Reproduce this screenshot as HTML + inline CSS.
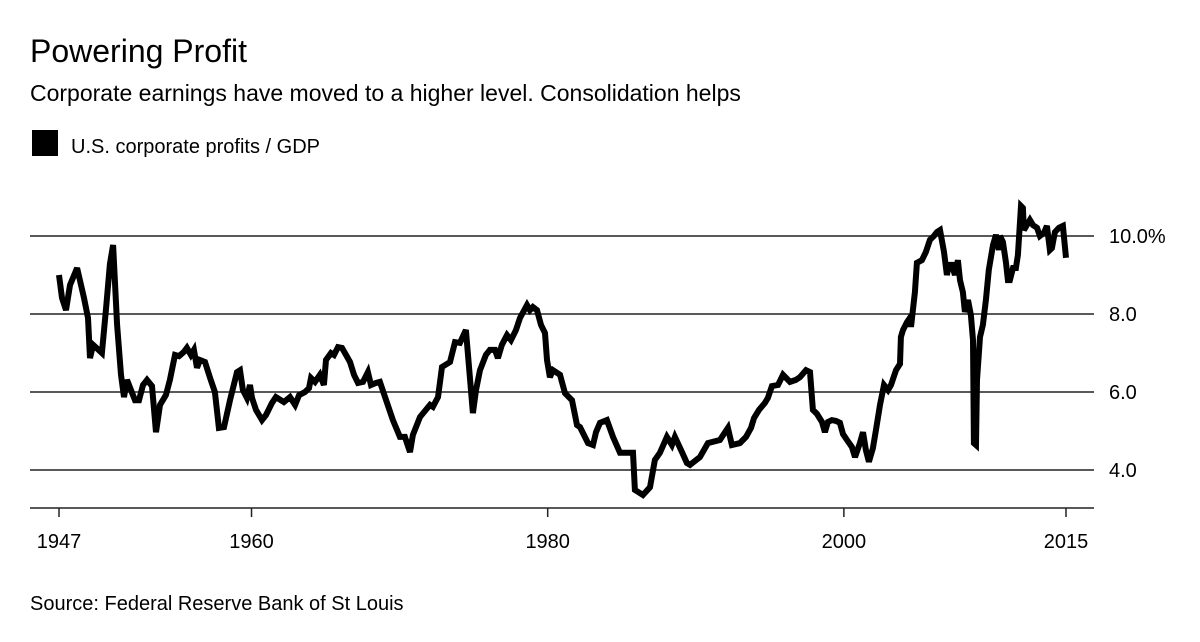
<!DOCTYPE html>
<html><head><meta charset="utf-8"><style>
body{margin:0;background:#fff;width:1200px;height:637px;overflow:hidden;font-family:"Liberation Sans",sans-serif;color:#000}
svg text{font-family:"Liberation Sans",sans-serif}
</style></head><body>
<svg id="chart" width="1200" height="637" xmlns="http://www.w3.org/2000/svg">
<text x="30" y="62" font-size="32">Powering Profit</text>
<text x="30" y="101" font-size="23">Corporate earnings have moved to a higher level. Consolidation helps</text>
<rect x="32" y="130" width="26" height="26" fill="#000"/>
<text x="71" y="153" font-size="20">U.S. corporate profits / GDP</text>
<g id="grid"></g><g id="xaxis"></g><g id="plot"></g>
<text x="30" y="610" font-size="20">Source: Federal Reserve Bank of St Louis</text>
</svg>
<script>
const years=[1947.0,1947.2,1947.47,1947.74,1948.22,1948.69,1948.96,1949.09,1949.3,1949.9,1950.17,1950.44,1950.65,1950.92,1951.19,1951.39,1951.59,1951.86,1952.13,1952.4,1952.67,1952.94,1953.28,1953.55,1953.82,1954.22,1954.49,1954.83,1955.1,1955.44,1955.64,1955.91,1956.11,1956.32,1956.52,1956.86,1957.2,1957.53,1957.8,1958.14,1958.55,1959.02,1959.22,1959.42,1959.69,1959.9,1960.03,1960.3,1960.71,1960.98,1961.38,1961.65,1962.19,1962.6,1962.94,1963.21,1963.61,1963.88,1964.02,1964.29,1964.62,1964.89,1965.03,1965.37,1965.57,1965.84,1966.11,1966.38,1966.65,1966.92,1967.19,1967.53,1967.86,1968.07,1968.4,1968.67,1969.55,1970.02,1970.36,1970.7,1970.9,1971.38,1972.05,1972.25,1972.59,1972.86,1973.4,1973.74,1974.07,1974.48,1974.95,1975.16,1975.43,1975.83,1976.1,1976.44,1976.64,1976.91,1977.25,1977.52,1977.86,1978.13,1978.6,1978.8,1979.0,1979.28,1979.55,1979.82,1979.95,1980.15,1980.36,1980.83,1981.17,1981.64,1981.98,1982.18,1982.72,1983.06,1983.26,1983.53,1984.0,1984.41,1984.88,1985.76,1985.89,1986.43,1986.91,1987.24,1987.58,1988.05,1988.39,1988.59,1989.07,1989.4,1989.61,1990.28,1990.82,1991.63,1992.17,1992.44,1992.98,1993.39,1993.73,1993.93,1994.27,1994.67,1994.87,1995.14,1995.55,1995.89,1996.36,1996.76,1997.03,1997.44,1997.71,1997.91,1998.18,1998.52,1998.72,1998.92,1999.19,1999.46,1999.73,1999.94,2000.21,2000.54,2000.75,2001.08,2001.29,2001.49,2001.69,2001.96,2002.17,2002.44,2002.71,2002.98,2003.18,2003.52,2003.79,2003.85,2003.99,2004.26,2004.46,2004.53,2004.8,2004.93,2005.27,2005.54,2005.81,2006.08,2006.28,2006.49,2006.76,2006.96,2007.09,2007.3,2007.5,2007.7,2007.84,2008.04,2008.17,2008.38,2008.58,2008.72,2008.78,2008.92,2008.99,2009.19,2009.39,2009.59,2009.79,2010.07,2010.27,2010.47,2010.54,2010.74,2010.94,2011.08,2011.21,2011.42,2011.62,2011.75,2011.96,2012.09,2012.16,2012.56,2012.77,2013.04,2013.24,2013.51,2013.71,2013.91,2014.05,2014.25,2014.52,2014.79,2015.0];
const profits=[9.0,8.41,8.1,8.74,9.18,8.41,7.9,6.87,7.21,7.0,8.1,9.28,9.77,7.72,6.44,5.87,6.31,6.05,5.79,5.79,6.18,6.31,6.15,4.97,5.67,5.92,6.31,6.95,6.92,7.03,7.13,6.95,7.08,6.62,6.82,6.77,6.36,6.0,5.08,5.1,5.79,6.51,6.56,6.05,5.85,6.18,5.85,5.54,5.28,5.41,5.72,5.87,5.74,5.87,5.67,5.92,6.0,6.1,6.36,6.26,6.44,6.18,6.82,7.0,6.95,7.15,7.13,6.95,6.77,6.44,6.23,6.26,6.51,6.18,6.23,6.26,5.28,4.85,4.85,4.46,4.9,5.36,5.67,5.62,5.87,6.64,6.77,7.28,7.26,7.59,5.46,6.05,6.56,6.95,7.08,7.08,6.87,7.21,7.46,7.33,7.59,7.9,8.23,8.1,8.18,8.1,7.72,7.51,6.82,6.38,6.56,6.44,5.97,5.79,5.15,5.1,4.69,4.64,4.97,5.21,5.28,4.85,4.44,4.44,3.49,3.36,3.56,4.26,4.44,4.85,4.64,4.85,4.46,4.18,4.13,4.33,4.69,4.77,5.08,4.64,4.69,4.85,5.08,5.33,5.54,5.72,5.85,6.15,6.18,6.44,6.26,6.31,6.38,6.56,6.51,5.54,5.44,5.23,4.97,5.23,5.28,5.26,5.21,4.92,4.77,4.59,4.33,4.69,4.97,4.51,4.21,4.56,5.03,5.67,6.18,6.05,6.18,6.56,6.72,7.41,7.59,7.79,7.9,7.67,8.56,9.31,9.38,9.59,9.9,10.0,10.1,10.15,9.59,9.0,9.26,9.26,9.0,9.38,8.87,8.56,8.05,8.36,7.97,7.33,4.69,4.64,6.31,7.41,7.72,8.36,9.13,9.77,10.03,9.64,10.0,9.85,9.33,8.87,8.87,9.18,9.18,9.51,10.77,10.72,10.15,10.41,10.28,10.21,10.0,10.08,10.26,9.64,9.69,10.1,10.21,10.26,9.44];
const yTicks=[4,6,8,10];
const yTickLabels=["4.0","6.0","8.0","10.0%"];
const xTicks=[1947,1960,1980,2000,2015];
const NS="http://www.w3.org/2000/svg";
function xs(yr){return 59+(yr-1947)*(1066-59)/(2015-1947);}
function ys(v){return 236+(10-v)*39;}
function mk(tag,attrs,parent){const e=document.createElementNS(NS,tag);for(const k in attrs)e.setAttribute(k,attrs[k]);parent.appendChild(e);return e;}
const grid=document.getElementById('grid'),xa=document.getElementById('xaxis'),plot=document.getElementById('plot');
yTicks.forEach((t,i)=>{
 const l=mk('line',{x1:30,x2:1094,y1:ys(t),y2:ys(t),stroke:'#222','stroke-width':1.5},grid);
 
 
 const tx=mk('text',{x:1109,y:ys(t)+7,'font-size':20},grid);
 tx.textContent=yTickLabels[i];
 
 
});
const ax=mk('line',{x1:30,x2:1094,y1:508,y2:508,stroke:'#222','stroke-width':1.5},xa);


xTicks.forEach(t=>{
 const tk=mk('line',{x1:xs(t),x2:xs(t),y1:508,y2:517,stroke:'#222','stroke-width':1.5},xa);
 
 
 const tx=mk('text',{x:xs(t),y:548,'font-size':20,'text-anchor':'middle'},xa);
 tx.textContent=t;
 
 
});
const d=years.map((y,i)=>(i?'L':'M')+xs(y).toFixed(1)+' '+ys(profits[i]).toFixed(1)).join(' ');
const p=mk('path',{d:d,fill:'none',stroke:'#000','stroke-width':6,'stroke-linejoin':'miter','stroke-miterlimit':3},plot);


</script>
</body></html>
